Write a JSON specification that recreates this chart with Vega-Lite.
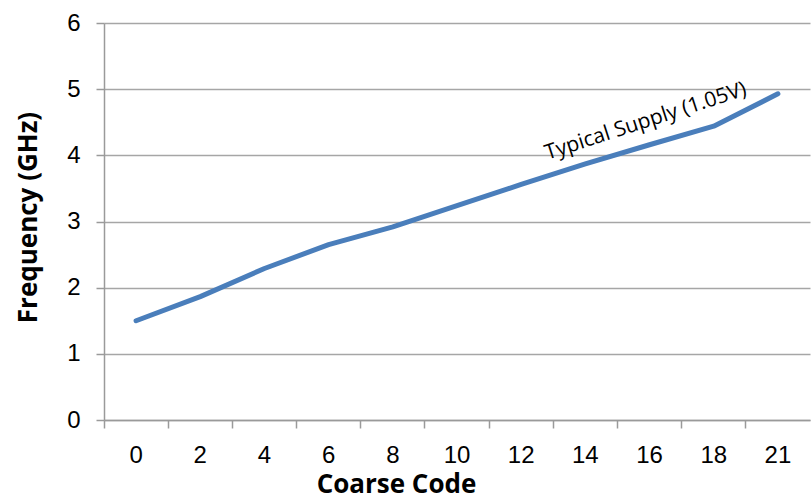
{
  "$schema": "https://vega.github.io/schema/vega-lite/v6.json",
  "width": 706,
  "height": 397,
  "autosize": "none",
  "padding": {"left": 104, "top": 23, "right": 1, "bottom": 77},
  "background": "white",
  "config": {"view": {"stroke": null}},
  "datasets": {
    "series": [
      {"code": 0, "freq": 1.5},
      {"code": 2, "freq": 1.865},
      {"code": 4, "freq": 2.29},
      {"code": 6, "freq": 2.65},
      {"code": 8, "freq": 2.92},
      {"code": 10, "freq": 3.24},
      {"code": 12, "freq": 3.56},
      {"code": 14, "freq": 3.87},
      {"code": 16, "freq": 4.16},
      {"code": 18, "freq": 4.44},
      {"code": 21, "freq": 4.93}
    ],
    "note": [
      {"code": 16, "freq": 4.53, "label": "Typical Supply (1.05V)"}
    ]
  },
  "layer": [
    {
      "data": {"name": "series"},
      "mark": {"type": "line", "color": "#4a7ebb", "strokeWidth": 5, "strokeCap": "round", "strokeJoin": "round"},
      "encoding": {
        "x": {
          "field": "code", "type": "ordinal", "bandPosition": 0.5,
          "scale": {"type": "band", "paddingInner": 0, "paddingOuter": 0},
          "axis": {
            "orient": "bottom",
            "title": "Coarse Code",
            "titleFont": "Open Sans", "titleFontSize": 26, "titleFontWeight": "bold", "titleColor": "#000000",
            "titleAnchor": null, "titleAlign": "center", "titleBaseline": "alphabetic",
            "titleX": 292, "titleY": 72,
            "labelFont": "Liberation Sans", "labelFontSize": 24, "labelColor": "#000000",
            "labelAngle": 0, "labelPadding": 23,
            "ticks": false, "grid": false,
            "domain": true, "domainColor": "#9a9a9a", "domainWidth": 1.5
          }
        },
        "y": {
          "field": "freq", "type": "quantitative",
          "scale": {"domain": [0, 6], "nice": false, "zero": true},
          "axis": {
            "title": "Frequency (GHz)",
            "titleFont": "Open Sans", "titleFontSize": 26, "titleFontWeight": "bold", "titleColor": "#000000",
            "titleAngle": 270, "titleAlign": "center", "titleBaseline": "alphabetic", "titleAnchor": null,
            "titleX": -68, "titleY": 194,
            "values": [0, 1, 2, 3, 4, 5, 6], "format": "d",
            "labelFont": "Liberation Sans", "labelFontSize": 24, "labelColor": "#000000",
            "labelPadding": 16,
            "ticks": true, "tickSize": 8, "tickColor": "#9a9a9a", "tickWidth": 1.5,
            "grid": true, "gridColor": "#a6a6a6", "gridWidth": 1.5,
            "domain": true, "domainColor": "#9a9a9a", "domainWidth": 1.5
          }
        }
      }
    },
    {
      "data": {"name": "note"},
      "mark": {"type": "text", "font": "Open Sans", "fontSize": 21, "angle": 342, "align": "center", "baseline": "middle", "color": "#000000", "dx": -4},
      "encoding": {
        "x": {
          "field": "code", "type": "ordinal", "bandPosition": 0.5,
          "axis": {
            "orient": "bottom",
            "title": null, "labels": false, "grid": false, "domain": false,
            "ticks": true, "tickSize": 8, "tickColor": "#9a9a9a", "tickWidth": 1.5,
            "bandPosition": 0
          }
        },
        "y": {"field": "freq", "type": "quantitative"},
        "text": {"field": "label"}
      }
    }
  ],
  "resolve": {"axis": {"x": "independent"}}
}
